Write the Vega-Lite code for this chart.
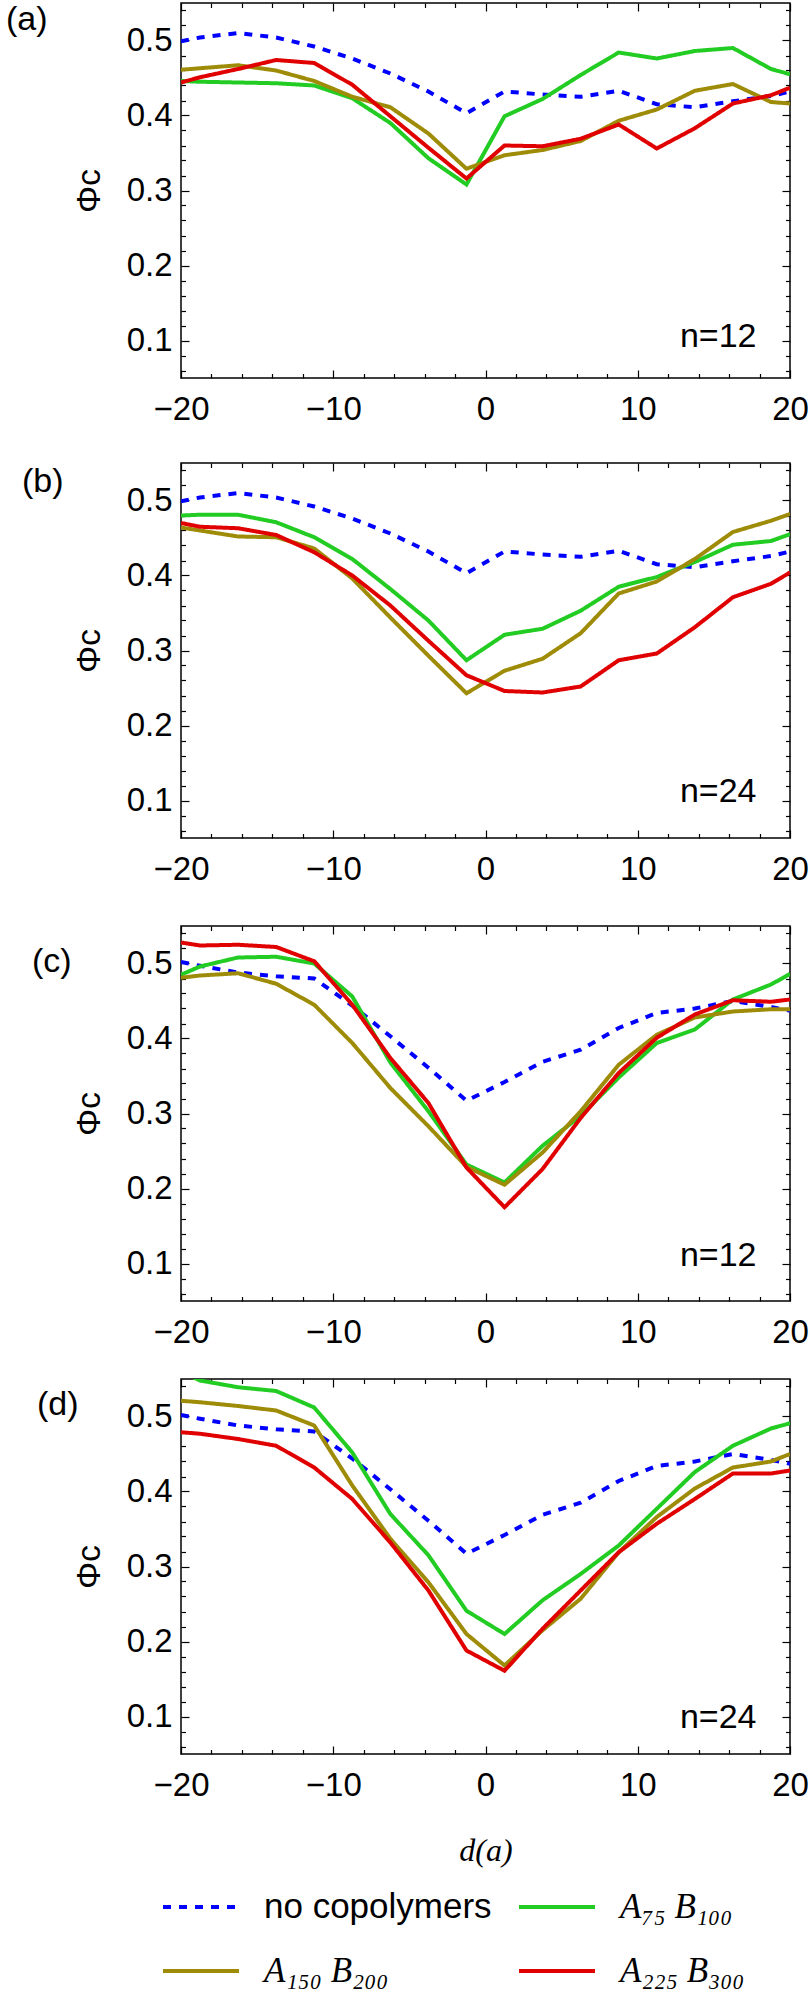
{
  "$schema": "https://vega.github.io/schema/vega-lite/v6.json",
  "background": "white",
  "padding": {"left": 5, "top": 1, "right": 0, "bottom": 5},
  "datasets": {
    "curves": [
      {"panel":"a","series":"no copolymers","d":-20,"phi":0.499},{"panel":"a","series":"no copolymers","d":-18.75,"phi":0.504},{"panel":"a","series":"no copolymers","d":-16.25,"phi":0.510},{"panel":"a","series":"no copolymers","d":-13.75,"phi":0.504},{"panel":"a","series":"no copolymers","d":-11.25,"phi":0.492},{"panel":"a","series":"no copolymers","d":-8.75,"phi":0.476},{"panel":"a","series":"no copolymers","d":-6.25,"phi":0.456},{"panel":"a","series":"no copolymers","d":-3.75,"phi":0.432},{"panel":"a","series":"no copolymers","d":-1.25,"phi":0.403},{"panel":"a","series":"no copolymers","d":1.25,"phi":0.432},{"panel":"a","series":"no copolymers","d":3.75,"phi":0.428},{"panel":"a","series":"no copolymers","d":6.25,"phi":0.425},{"panel":"a","series":"no copolymers","d":8.75,"phi":0.433},{"panel":"a","series":"no copolymers","d":11.25,"phi":0.415},{"panel":"a","series":"no copolymers","d":13.75,"phi":0.411},{"panel":"a","series":"no copolymers","d":16.25,"phi":0.419},{"panel":"a","series":"no copolymers","d":18.75,"phi":0.426},{"panel":"a","series":"no copolymers","d":20,"phi":0.432},
      {"panel":"a","series":"A₇₅ B₁₀₀","d":-20,"phi":0.446},{"panel":"a","series":"A₇₅ B₁₀₀","d":-18.75,"phi":0.445},{"panel":"a","series":"A₇₅ B₁₀₀","d":-16.25,"phi":0.444},{"panel":"a","series":"A₇₅ B₁₀₀","d":-13.75,"phi":0.443},{"panel":"a","series":"A₇₅ B₁₀₀","d":-11.25,"phi":0.440},{"panel":"a","series":"A₇₅ B₁₀₀","d":-8.75,"phi":0.423},{"panel":"a","series":"A₇₅ B₁₀₀","d":-6.25,"phi":0.390},{"panel":"a","series":"A₇₅ B₁₀₀","d":-3.75,"phi":0.343},{"panel":"a","series":"A₇₅ B₁₀₀","d":-1.25,"phi":0.308},{"panel":"a","series":"A₇₅ B₁₀₀","d":1.25,"phi":0.399},{"panel":"a","series":"A₇₅ B₁₀₀","d":3.75,"phi":0.422},{"panel":"a","series":"A₇₅ B₁₀₀","d":6.25,"phi":0.454},{"panel":"a","series":"A₇₅ B₁₀₀","d":8.75,"phi":0.484},{"panel":"a","series":"A₇₅ B₁₀₀","d":11.25,"phi":0.476},{"panel":"a","series":"A₇₅ B₁₀₀","d":13.75,"phi":0.486},{"panel":"a","series":"A₇₅ B₁₀₀","d":16.25,"phi":0.490},{"panel":"a","series":"A₇₅ B₁₀₀","d":18.75,"phi":0.462},{"panel":"a","series":"A₇₅ B₁₀₀","d":20,"phi":0.455},
      {"panel":"a","series":"A₁₅₀ B₂₀₀","d":-20,"phi":0.461},{"panel":"a","series":"A₁₅₀ B₂₀₀","d":-18.75,"phi":0.463},{"panel":"a","series":"A₁₅₀ B₂₀₀","d":-16.25,"phi":0.467},{"panel":"a","series":"A₁₅₀ B₂₀₀","d":-13.75,"phi":0.460},{"panel":"a","series":"A₁₅₀ B₂₀₀","d":-11.25,"phi":0.446},{"panel":"a","series":"A₁₅₀ B₂₀₀","d":-8.75,"phi":0.425},{"panel":"a","series":"A₁₅₀ B₂₀₀","d":-6.25,"phi":0.411},{"panel":"a","series":"A₁₅₀ B₂₀₀","d":-3.75,"phi":0.376},{"panel":"a","series":"A₁₅₀ B₂₀₀","d":-1.25,"phi":0.329},{"panel":"a","series":"A₁₅₀ B₂₀₀","d":1.25,"phi":0.347},{"panel":"a","series":"A₁₅₀ B₂₀₀","d":3.75,"phi":0.354},{"panel":"a","series":"A₁₅₀ B₂₀₀","d":6.25,"phi":0.366},{"panel":"a","series":"A₁₅₀ B₂₀₀","d":8.75,"phi":0.393},{"panel":"a","series":"A₁₅₀ B₂₀₀","d":11.25,"phi":0.408},{"panel":"a","series":"A₁₅₀ B₂₀₀","d":13.75,"phi":0.433},{"panel":"a","series":"A₁₅₀ B₂₀₀","d":16.25,"phi":0.442},{"panel":"a","series":"A₁₅₀ B₂₀₀","d":18.75,"phi":0.418},{"panel":"a","series":"A₁₅₀ B₂₀₀","d":20,"phi":0.416},
      {"panel":"a","series":"A₂₂₅ B₃₀₀","d":-20,"phi":0.444},{"panel":"a","series":"A₂₂₅ B₃₀₀","d":-18.75,"phi":0.451},{"panel":"a","series":"A₂₂₅ B₃₀₀","d":-16.25,"phi":0.462},{"panel":"a","series":"A₂₂₅ B₃₀₀","d":-13.75,"phi":0.474},{"panel":"a","series":"A₂₂₅ B₃₀₀","d":-11.25,"phi":0.470},{"panel":"a","series":"A₂₂₅ B₃₀₀","d":-8.75,"phi":0.441},{"panel":"a","series":"A₂₂₅ B₃₀₀","d":-6.25,"phi":0.399},{"panel":"a","series":"A₂₂₅ B₃₀₀","d":-3.75,"phi":0.357},{"panel":"a","series":"A₂₂₅ B₃₀₀","d":-1.25,"phi":0.316},{"panel":"a","series":"A₂₂₅ B₃₀₀","d":1.25,"phi":0.360},{"panel":"a","series":"A₂₂₅ B₃₀₀","d":3.75,"phi":0.359},{"panel":"a","series":"A₂₂₅ B₃₀₀","d":6.25,"phi":0.369},{"panel":"a","series":"A₂₂₅ B₃₀₀","d":8.75,"phi":0.388},{"panel":"a","series":"A₂₂₅ B₃₀₀","d":11.25,"phi":0.356},{"panel":"a","series":"A₂₂₅ B₃₀₀","d":13.75,"phi":0.383},{"panel":"a","series":"A₂₂₅ B₃₀₀","d":16.25,"phi":0.416},{"panel":"a","series":"A₂₂₅ B₃₀₀","d":18.75,"phi":0.427},{"panel":"a","series":"A₂₂₅ B₃₀₀","d":20,"phi":0.437},

      {"panel":"b","series":"no copolymers","d":-20,"phi":0.499},{"panel":"b","series":"no copolymers","d":-18.75,"phi":0.504},{"panel":"b","series":"no copolymers","d":-16.25,"phi":0.510},{"panel":"b","series":"no copolymers","d":-13.75,"phi":0.504},{"panel":"b","series":"no copolymers","d":-11.25,"phi":0.492},{"panel":"b","series":"no copolymers","d":-8.75,"phi":0.476},{"panel":"b","series":"no copolymers","d":-6.25,"phi":0.456},{"panel":"b","series":"no copolymers","d":-3.75,"phi":0.432},{"panel":"b","series":"no copolymers","d":-1.25,"phi":0.403},{"panel":"b","series":"no copolymers","d":1.25,"phi":0.432},{"panel":"b","series":"no copolymers","d":3.75,"phi":0.428},{"panel":"b","series":"no copolymers","d":6.25,"phi":0.425},{"panel":"b","series":"no copolymers","d":8.75,"phi":0.433},{"panel":"b","series":"no copolymers","d":11.25,"phi":0.415},{"panel":"b","series":"no copolymers","d":13.75,"phi":0.411},{"panel":"b","series":"no copolymers","d":16.25,"phi":0.419},{"panel":"b","series":"no copolymers","d":18.75,"phi":0.426},{"panel":"b","series":"no copolymers","d":20,"phi":0.432},
      {"panel":"b","series":"A₇₅ B₁₀₀","d":-20,"phi":0.480},{"panel":"b","series":"A₇₅ B₁₀₀","d":-18.75,"phi":0.481},{"panel":"b","series":"A₇₅ B₁₀₀","d":-16.25,"phi":0.481},{"panel":"b","series":"A₇₅ B₁₀₀","d":-13.75,"phi":0.471},{"panel":"b","series":"A₇₅ B₁₀₀","d":-11.25,"phi":0.451},{"panel":"b","series":"A₇₅ B₁₀₀","d":-8.75,"phi":0.422},{"panel":"b","series":"A₇₅ B₁₀₀","d":-6.25,"phi":0.382},{"panel":"b","series":"A₇₅ B₁₀₀","d":-3.75,"phi":0.340},{"panel":"b","series":"A₇₅ B₁₀₀","d":-1.25,"phi":0.287},{"panel":"b","series":"A₇₅ B₁₀₀","d":1.25,"phi":0.321},{"panel":"b","series":"A₇₅ B₁₀₀","d":3.75,"phi":0.329},{"panel":"b","series":"A₇₅ B₁₀₀","d":6.25,"phi":0.353},{"panel":"b","series":"A₇₅ B₁₀₀","d":8.75,"phi":0.385},{"panel":"b","series":"A₇₅ B₁₀₀","d":11.25,"phi":0.398},{"panel":"b","series":"A₇₅ B₁₀₀","d":13.75,"phi":0.418},{"panel":"b","series":"A₇₅ B₁₀₀","d":16.25,"phi":0.441},{"panel":"b","series":"A₇₅ B₁₀₀","d":18.75,"phi":0.446},{"panel":"b","series":"A₇₅ B₁₀₀","d":20,"phi":0.455},
      {"panel":"b","series":"A₁₅₀ B₂₀₀","d":-20,"phi":0.464},{"panel":"b","series":"A₁₅₀ B₂₀₀","d":-18.75,"phi":0.460},{"panel":"b","series":"A₁₅₀ B₂₀₀","d":-16.25,"phi":0.452},{"panel":"b","series":"A₁₅₀ B₂₀₀","d":-13.75,"phi":0.451},{"panel":"b","series":"A₁₅₀ B₂₀₀","d":-11.25,"phi":0.436},{"panel":"b","series":"A₁₅₀ B₂₀₀","d":-8.75,"phi":0.396},{"panel":"b","series":"A₁₅₀ B₂₀₀","d":-6.25,"phi":0.344},{"panel":"b","series":"A₁₅₀ B₂₀₀","d":-3.75,"phi":0.293},{"panel":"b","series":"A₁₅₀ B₂₀₀","d":-1.25,"phi":0.243},{"panel":"b","series":"A₁₅₀ B₂₀₀","d":1.25,"phi":0.273},{"panel":"b","series":"A₁₅₀ B₂₀₀","d":3.75,"phi":0.289},{"panel":"b","series":"A₁₅₀ B₂₀₀","d":6.25,"phi":0.323},{"panel":"b","series":"A₁₅₀ B₂₀₀","d":8.75,"phi":0.376},{"panel":"b","series":"A₁₅₀ B₂₀₀","d":11.25,"phi":0.392},{"panel":"b","series":"A₁₅₀ B₂₀₀","d":13.75,"phi":0.422},{"panel":"b","series":"A₁₅₀ B₂₀₀","d":16.25,"phi":0.458},{"panel":"b","series":"A₁₅₀ B₂₀₀","d":18.75,"phi":0.473},{"panel":"b","series":"A₁₅₀ B₂₀₀","d":20,"phi":0.482},
      {"panel":"b","series":"A₂₂₅ B₃₀₀","d":-20,"phi":0.470},{"panel":"b","series":"A₂₂₅ B₃₀₀","d":-18.75,"phi":0.465},{"panel":"b","series":"A₂₂₅ B₃₀₀","d":-16.25,"phi":0.463},{"panel":"b","series":"A₂₂₅ B₃₀₀","d":-13.75,"phi":0.454},{"panel":"b","series":"A₂₂₅ B₃₀₀","d":-11.25,"phi":0.431},{"panel":"b","series":"A₂₂₅ B₃₀₀","d":-8.75,"phi":0.400},{"panel":"b","series":"A₂₂₅ B₃₀₀","d":-6.25,"phi":0.360},{"panel":"b","series":"A₂₂₅ B₃₀₀","d":-3.75,"phi":0.313},{"panel":"b","series":"A₂₂₅ B₃₀₀","d":-1.25,"phi":0.267},{"panel":"b","series":"A₂₂₅ B₃₀₀","d":1.25,"phi":0.246},{"panel":"b","series":"A₂₂₅ B₃₀₀","d":3.75,"phi":0.244},{"panel":"b","series":"A₂₂₅ B₃₀₀","d":6.25,"phi":0.252},{"panel":"b","series":"A₂₂₅ B₃₀₀","d":8.75,"phi":0.287},{"panel":"b","series":"A₂₂₅ B₃₀₀","d":11.25,"phi":0.296},{"panel":"b","series":"A₂₂₅ B₃₀₀","d":13.75,"phi":0.331},{"panel":"b","series":"A₂₂₅ B₃₀₀","d":16.25,"phi":0.371},{"panel":"b","series":"A₂₂₅ B₃₀₀","d":18.75,"phi":0.389},{"panel":"b","series":"A₂₂₅ B₃₀₀","d":20,"phi":0.404},

      {"panel":"c","series":"no copolymers","d":-20,"phi":0.502},{"panel":"c","series":"no copolymers","d":-18.75,"phi":0.497},{"panel":"c","series":"no copolymers","d":-16.25,"phi":0.488},{"panel":"c","series":"no copolymers","d":-13.75,"phi":0.483},{"panel":"c","series":"no copolymers","d":-11.25,"phi":0.480},{"panel":"c","series":"no copolymers","d":-8.75,"phi":0.444},{"panel":"c","series":"no copolymers","d":-6.25,"phi":0.403},{"panel":"c","series":"no copolymers","d":-3.75,"phi":0.361},{"panel":"c","series":"no copolymers","d":-1.25,"phi":0.317},{"panel":"c","series":"no copolymers","d":1.25,"phi":0.342},{"panel":"c","series":"no copolymers","d":3.75,"phi":0.369},{"panel":"c","series":"no copolymers","d":6.25,"phi":0.385},{"panel":"c","series":"no copolymers","d":8.75,"phi":0.414},{"panel":"c","series":"no copolymers","d":11.25,"phi":0.434},{"panel":"c","series":"no copolymers","d":13.75,"phi":0.440},{"panel":"c","series":"no copolymers","d":16.25,"phi":0.450},{"panel":"c","series":"no copolymers","d":18.75,"phi":0.442},{"panel":"c","series":"no copolymers","d":20,"phi":0.437},
      {"panel":"c","series":"A₇₅ B₁₀₀","d":-20,"phi":0.485},{"panel":"c","series":"A₇₅ B₁₀₀","d":-18.75,"phi":0.496},{"panel":"c","series":"A₇₅ B₁₀₀","d":-16.25,"phi":0.508},{"panel":"c","series":"A₇₅ B₁₀₀","d":-13.75,"phi":0.509},{"panel":"c","series":"A₇₅ B₁₀₀","d":-11.25,"phi":0.500},{"panel":"c","series":"A₇₅ B₁₀₀","d":-8.75,"phi":0.456},{"panel":"c","series":"A₇₅ B₁₀₀","d":-6.25,"phi":0.368},{"panel":"c","series":"A₇₅ B₁₀₀","d":-3.75,"phi":0.303},{"panel":"c","series":"A₇₅ B₁₀₀","d":-1.25,"phi":0.232},{"panel":"c","series":"A₇₅ B₁₀₀","d":1.25,"phi":0.208},{"panel":"c","series":"A₇₅ B₁₀₀","d":3.75,"phi":0.257},{"panel":"c","series":"A₇₅ B₁₀₀","d":6.25,"phi":0.297},{"panel":"c","series":"A₇₅ B₁₀₀","d":8.75,"phi":0.348},{"panel":"c","series":"A₇₅ B₁₀₀","d":11.25,"phi":0.394},{"panel":"c","series":"A₇₅ B₁₀₀","d":13.75,"phi":0.412},{"panel":"c","series":"A₇₅ B₁₀₀","d":16.25,"phi":0.452},{"panel":"c","series":"A₇₅ B₁₀₀","d":18.75,"phi":0.472},{"panel":"c","series":"A₇₅ B₁₀₀","d":20,"phi":0.486},
      {"panel":"c","series":"A₁₅₀ B₂₀₀","d":-20,"phi":0.481},{"panel":"c","series":"A₁₅₀ B₂₀₀","d":-18.75,"phi":0.484},{"panel":"c","series":"A₁₅₀ B₂₀₀","d":-16.25,"phi":0.487},{"panel":"c","series":"A₁₅₀ B₂₀₀","d":-13.75,"phi":0.473},{"panel":"c","series":"A₁₅₀ B₂₀₀","d":-11.25,"phi":0.445},{"panel":"c","series":"A₁₅₀ B₂₀₀","d":-8.75,"phi":0.394},{"panel":"c","series":"A₁₅₀ B₂₀₀","d":-6.25,"phi":0.334},{"panel":"c","series":"A₁₅₀ B₂₀₀","d":-3.75,"phi":0.283},{"panel":"c","series":"A₁₅₀ B₂₀₀","d":-1.25,"phi":0.229},{"panel":"c","series":"A₁₅₀ B₂₀₀","d":1.25,"phi":0.205},{"panel":"c","series":"A₁₅₀ B₂₀₀","d":3.75,"phi":0.248},{"panel":"c","series":"A₁₅₀ B₂₀₀","d":6.25,"phi":0.303},{"panel":"c","series":"A₁₅₀ B₂₀₀","d":8.75,"phi":0.365},{"panel":"c","series":"A₁₅₀ B₂₀₀","d":11.25,"phi":0.405},{"panel":"c","series":"A₁₅₀ B₂₀₀","d":13.75,"phi":0.428},{"panel":"c","series":"A₁₅₀ B₂₀₀","d":16.25,"phi":0.436},{"panel":"c","series":"A₁₅₀ B₂₀₀","d":18.75,"phi":0.439},{"panel":"c","series":"A₁₅₀ B₂₀₀","d":20,"phi":0.439},
      {"panel":"c","series":"A₂₂₅ B₃₀₀","d":-20,"phi":0.528},{"panel":"c","series":"A₂₂₅ B₃₀₀","d":-18.75,"phi":0.524},{"panel":"c","series":"A₂₂₅ B₃₀₀","d":-16.25,"phi":0.525},{"panel":"c","series":"A₂₂₅ B₃₀₀","d":-13.75,"phi":0.522},{"panel":"c","series":"A₂₂₅ B₃₀₀","d":-11.25,"phi":0.503},{"panel":"c","series":"A₂₂₅ B₃₀₀","d":-8.75,"phi":0.445},{"panel":"c","series":"A₂₂₅ B₃₀₀","d":-6.25,"phi":0.374},{"panel":"c","series":"A₂₂₅ B₃₀₀","d":-3.75,"phi":0.314},{"panel":"c","series":"A₂₂₅ B₃₀₀","d":-1.25,"phi":0.228},{"panel":"c","series":"A₂₂₅ B₃₀₀","d":1.25,"phi":0.175},{"panel":"c","series":"A₂₂₅ B₃₀₀","d":3.75,"phi":0.226},{"panel":"c","series":"A₂₂₅ B₃₀₀","d":6.25,"phi":0.294},{"panel":"c","series":"A₂₂₅ B₃₀₀","d":8.75,"phi":0.354},{"panel":"c","series":"A₂₂₅ B₃₀₀","d":11.25,"phi":0.401},{"panel":"c","series":"A₂₂₅ B₃₀₀","d":13.75,"phi":0.432},{"panel":"c","series":"A₂₂₅ B₃₀₀","d":16.25,"phi":0.451},{"panel":"c","series":"A₂₂₅ B₃₀₀","d":18.75,"phi":0.449},{"panel":"c","series":"A₂₂₅ B₃₀₀","d":20,"phi":0.452},

      {"panel":"d","series":"no copolymers","d":-20,"phi":0.502},{"panel":"d","series":"no copolymers","d":-18.75,"phi":0.497},{"panel":"d","series":"no copolymers","d":-16.25,"phi":0.488},{"panel":"d","series":"no copolymers","d":-13.75,"phi":0.483},{"panel":"d","series":"no copolymers","d":-11.25,"phi":0.480},{"panel":"d","series":"no copolymers","d":-8.75,"phi":0.444},{"panel":"d","series":"no copolymers","d":-6.25,"phi":0.403},{"panel":"d","series":"no copolymers","d":-3.75,"phi":0.361},{"panel":"d","series":"no copolymers","d":-1.25,"phi":0.317},{"panel":"d","series":"no copolymers","d":1.25,"phi":0.342},{"panel":"d","series":"no copolymers","d":3.75,"phi":0.369},{"panel":"d","series":"no copolymers","d":6.25,"phi":0.385},{"panel":"d","series":"no copolymers","d":8.75,"phi":0.414},{"panel":"d","series":"no copolymers","d":11.25,"phi":0.434},{"panel":"d","series":"no copolymers","d":13.75,"phi":0.440},{"panel":"d","series":"no copolymers","d":16.25,"phi":0.450},{"panel":"d","series":"no copolymers","d":18.75,"phi":0.442},{"panel":"d","series":"no copolymers","d":20,"phi":0.437},
      {"panel":"d","series":"A₇₅ B₁₀₀","d":-20,"phi":0.560},{"panel":"d","series":"A₇₅ B₁₀₀","d":-18.75,"phi":0.548},{"panel":"d","series":"A₇₅ B₁₀₀","d":-16.25,"phi":0.539},{"panel":"d","series":"A₇₅ B₁₀₀","d":-13.75,"phi":0.534},{"panel":"d","series":"A₇₅ B₁₀₀","d":-11.25,"phi":0.512},{"panel":"d","series":"A₇₅ B₁₀₀","d":-8.75,"phi":0.452},{"panel":"d","series":"A₇₅ B₁₀₀","d":-6.25,"phi":0.370},{"panel":"d","series":"A₇₅ B₁₀₀","d":-3.75,"phi":0.315},{"panel":"d","series":"A₇₅ B₁₀₀","d":-1.25,"phi":0.241},{"panel":"d","series":"A₇₅ B₁₀₀","d":1.25,"phi":0.210},{"panel":"d","series":"A₇₅ B₁₀₀","d":3.75,"phi":0.255},{"panel":"d","series":"A₇₅ B₁₀₀","d":6.25,"phi":0.290},{"panel":"d","series":"A₇₅ B₁₀₀","d":8.75,"phi":0.328},{"panel":"d","series":"A₇₅ B₁₀₀","d":11.25,"phi":0.377},{"panel":"d","series":"A₇₅ B₁₀₀","d":13.75,"phi":0.426},{"panel":"d","series":"A₇₅ B₁₀₀","d":16.25,"phi":0.461},{"panel":"d","series":"A₇₅ B₁₀₀","d":18.75,"phi":0.484},{"panel":"d","series":"A₇₅ B₁₀₀","d":20,"phi":0.491},
      {"panel":"d","series":"A₁₅₀ B₂₀₀","d":-20,"phi":0.521},{"panel":"d","series":"A₁₅₀ B₂₀₀","d":-18.75,"phi":0.519},{"panel":"d","series":"A₁₅₀ B₂₀₀","d":-16.25,"phi":0.514},{"panel":"d","series":"A₁₅₀ B₂₀₀","d":-13.75,"phi":0.508},{"panel":"d","series":"A₁₅₀ B₂₀₀","d":-11.25,"phi":0.488},{"panel":"d","series":"A₁₅₀ B₂₀₀","d":-8.75,"phi":0.408},{"panel":"d","series":"A₁₅₀ B₂₀₀","d":-6.25,"phi":0.337},{"panel":"d","series":"A₁₅₀ B₂₀₀","d":-3.75,"phi":0.279},{"panel":"d","series":"A₁₅₀ B₂₀₀","d":-1.25,"phi":0.210},{"panel":"d","series":"A₁₅₀ B₂₀₀","d":1.25,"phi":0.168},{"panel":"d","series":"A₁₅₀ B₂₀₀","d":3.75,"phi":0.215},{"panel":"d","series":"A₁₅₀ B₂₀₀","d":6.25,"phi":0.257},{"panel":"d","series":"A₁₅₀ B₂₀₀","d":8.75,"phi":0.319},{"panel":"d","series":"A₁₅₀ B₂₀₀","d":11.25,"phi":0.366},{"panel":"d","series":"A₁₅₀ B₂₀₀","d":13.75,"phi":0.404},{"panel":"d","series":"A₁₅₀ B₂₀₀","d":16.25,"phi":0.432},{"panel":"d","series":"A₁₅₀ B₂₀₀","d":18.75,"phi":0.440},{"panel":"d","series":"A₁₅₀ B₂₀₀","d":20,"phi":0.450},
      {"panel":"d","series":"A₂₂₅ B₃₀₀","d":-20,"phi":0.479},{"panel":"d","series":"A₂₂₅ B₃₀₀","d":-18.75,"phi":0.477},{"panel":"d","series":"A₂₂₅ B₃₀₀","d":-16.25,"phi":0.470},{"panel":"d","series":"A₂₂₅ B₃₀₀","d":-13.75,"phi":0.461},{"panel":"d","series":"A₂₂₅ B₃₀₀","d":-11.25,"phi":0.432},{"panel":"d","series":"A₂₂₅ B₃₀₀","d":-8.75,"phi":0.390},{"panel":"d","series":"A₂₂₅ B₃₀₀","d":-6.25,"phi":0.332},{"panel":"d","series":"A₂₂₅ B₃₀₀","d":-3.75,"phi":0.268},{"panel":"d","series":"A₂₂₅ B₃₀₀","d":-1.25,"phi":0.188},{"panel":"d","series":"A₂₂₅ B₃₀₀","d":1.25,"phi":0.161},{"panel":"d","series":"A₂₂₅ B₃₀₀","d":3.75,"phi":0.217},{"panel":"d","series":"A₂₂₅ B₃₀₀","d":6.25,"phi":0.268},{"panel":"d","series":"A₂₂₅ B₃₀₀","d":8.75,"phi":0.319},{"panel":"d","series":"A₂₂₅ B₃₀₀","d":11.25,"phi":0.357},{"panel":"d","series":"A₂₂₅ B₃₀₀","d":13.75,"phi":0.390},{"panel":"d","series":"A₂₂₅ B₃₀₀","d":16.25,"phi":0.424},{"panel":"d","series":"A₂₂₅ B₃₀₀","d":18.75,"phi":0.424},{"panel":"d","series":"A₂₂₅ B₃₀₀","d":20,"phi":0.428}
    ]
  },
  "config": {
    "view": {"stroke": "black", "strokeWidth": 1.5},
    "axis": {"domain": false, "grid": false, "tickColor": "black", "tickWidth": 1.2, "labelFont": "Liberation Sans", "labelFontSize": 33, "labelColor": "black", "labelFlush": false, "labelOverlap": false, "titleFont": "Liberation Sans", "titleFontWeight": "normal", "titleColor": "black"},
    "title": {"font": "Liberation Sans", "fontSize": 34, "fontWeight": "normal", "color": "black", "anchor": "start", "frame": "group", "baseline": "top", "offset": -38},
    "legend": {"orient": "none", "direction": "horizontal", "legendX": -20, "legendY": 1864, "columns": 2, "symbolType": "stroke", "symbolSize": 5776, "symbolStrokeWidth": 4, "labelFont": "Liberation Serif", "labelFontStyle": "italic", "labelFontSize": 35, "labelColor": "black", "labelOffset": 23, "labelLimit": 0, "columnPadding": 19, "rowPadding": 6, "padding": 0}
  },
  "spacing": 37,
  "vconcat": [
    {
      "spacing": 34,
      "vconcat": [
        {
          "width": 609, "height": 375,
          "title": {"text": "(a)", "dx": -175, "dy": -3},
          "data": {"name": "curves"},
          "transform": [{"filter": "datum.panel === 'a'"}],
          "layer": [
            {"mark": {"type": "line", "clip": true, "strokeWidth": 4},
             "encoding": {
               "x": {"field": "d", "type": "quantitative", "scale": {"domain": [-20, 20], "nice": false, "zero": false}, "axis": {"orient": "bottom", "values": [-20, -10, 0, 10, 20], "tickSize": -8, "labelPadding": 23, "title": null}},
               "y": {"field": "phi", "type": "quantitative", "scale": {"domain": [0.05, 0.55], "nice": false, "zero": false}, "axis": {"orient": "left", "values": [0.1, 0.2, 0.3, 0.4, 0.5], "format": ".1f", "tickSize": -8, "labelPadding": 17, "title": "Φc", "titleFontSize": 34, "titlePadding": 20}},
               "color": {"field": "series", "type": "nominal", "scale": {"domain": ["no copolymers", "A₇₅ B₁₀₀", "A₁₅₀ B₂₀₀", "A₂₂₅ B₃₀₀"], "range": ["#0000ff", "#22cc22", "#9e8c08", "#e00000"]}, "legend": {"title": null, "encode": {"labels": {"update": {"font": {"signal": "datum.value === 'no copolymers' ? 'Liberation Sans' : 'Liberation Serif'"}, "fontStyle": {"signal": "datum.value === 'no copolymers' ? 'normal' : 'italic'"}}}}}},
               "strokeDash": {"field": "series", "type": "nominal", "scale": {"domain": ["no copolymers", "A₇₅ B₁₀₀", "A₁₅₀ B₂₀₀", "A₂₂₅ B₃₀₀"], "range": [[8, 8], [1, 0], [1, 0], [1, 0]]}, "legend": {"title": null}}
             }},
            {"mark": {"type": "point", "opacity": 0},
             "encoding": {
               "x": {"field": "d", "type": "quantitative", "axis": {"orient": "top", "values": [-20, -10, 0, 10, 20], "tickSize": -8, "labels": false, "title": null}},
               "y": {"field": "phi", "type": "quantitative", "axis": {"orient": "right", "values": [0.1, 0.2, 0.3, 0.4, 0.5], "tickSize": -8, "labels": false, "title": null}}
             }},
            {"mark": {"type": "point", "opacity": 0},
             "encoding": {
               "x": {"field": "d", "type": "quantitative", "axis": {"orient": "bottom", "values": [-18, -16, -14, -12, -8, -6, -4, -2, 2, 4, 6, 8, 12, 14, 16, 18], "tickSize": -4.5, "labels": false, "title": null}},
               "y": {"field": "phi", "type": "quantitative", "axis": {"orient": "left", "values": [0.06, 0.08, 0.12, 0.14, 0.16, 0.18, 0.22, 0.24, 0.26, 0.28, 0.32, 0.34, 0.36, 0.38, 0.42, 0.44, 0.46, 0.48, 0.52, 0.54], "tickSize": -4.5, "labels": false, "title": null}}
             }},
            {"mark": {"type": "point", "opacity": 0},
             "encoding": {
               "x": {"field": "d", "type": "quantitative", "axis": {"orient": "top", "values": [-18, -16, -14, -12, -8, -6, -4, -2, 2, 4, 6, 8, 12, 14, 16, 18], "tickSize": -4.5, "labels": false, "title": null}},
               "y": {"field": "phi", "type": "quantitative", "axis": {"orient": "right", "values": [0.06, 0.08, 0.12, 0.14, 0.16, 0.18, 0.22, 0.24, 0.26, 0.28, 0.32, 0.34, 0.36, 0.38, 0.42, 0.44, 0.46, 0.48, 0.52, 0.54], "tickSize": -4.5, "labels": false, "title": null}}
             }},
            {"data": {"values": [{"label": "n=12"}]},
             "mark": {"type": "text", "font": "Liberation Sans", "fontSize": 34, "align": "right", "baseline": "alphabetic", "color": "black"},
             "encoding": {
               "text": {"field": "label"},
               "x": {"datum": 17.8, "type": "quantitative", "axis": null},
               "y": {"datum": 0.091, "type": "quantitative", "axis": null}
             }}
          ],
          "resolve": {"axis": {"x": "independent", "y": "independent"}}
        },
        {
          "width": 609, "height": 375,
          "title": {"text": "(b)", "dx": -159, "dy": -1},
          "data": {"name": "curves"},
          "transform": [{"filter": "datum.panel === 'b'"}],
          "layer": [
            {"mark": {"type": "line", "clip": true, "strokeWidth": 4},
             "encoding": {
               "x": {"field": "d", "type": "quantitative", "scale": {"domain": [-20, 20], "nice": false, "zero": false}, "axis": {"orient": "bottom", "values": [-20, -10, 0, 10, 20], "tickSize": -8, "labelPadding": 23, "title": null}},
               "y": {"field": "phi", "type": "quantitative", "scale": {"domain": [0.05, 0.55], "nice": false, "zero": false}, "axis": {"orient": "left", "values": [0.1, 0.2, 0.3, 0.4, 0.5], "format": ".1f", "tickSize": -8, "labelPadding": 17, "title": "Φc", "titleFontSize": 34, "titlePadding": 20}},
               "color": {"field": "series", "type": "nominal", "scale": {"domain": ["no copolymers", "A₇₅ B₁₀₀", "A₁₅₀ B₂₀₀", "A₂₂₅ B₃₀₀"], "range": ["#0000ff", "#22cc22", "#9e8c08", "#e00000"]}, "legend": {"title": null}},
               "strokeDash": {"field": "series", "type": "nominal", "scale": {"domain": ["no copolymers", "A₇₅ B₁₀₀", "A₁₅₀ B₂₀₀", "A₂₂₅ B₃₀₀"], "range": [[8, 8], [1, 0], [1, 0], [1, 0]]}, "legend": {"title": null}}
             }},
            {"mark": {"type": "point", "opacity": 0},
             "encoding": {
               "x": {"field": "d", "type": "quantitative", "axis": {"orient": "top", "values": [-20, -10, 0, 10, 20], "tickSize": -8, "labels": false, "title": null}},
               "y": {"field": "phi", "type": "quantitative", "axis": {"orient": "right", "values": [0.1, 0.2, 0.3, 0.4, 0.5], "tickSize": -8, "labels": false, "title": null}}
             }},
            {"mark": {"type": "point", "opacity": 0},
             "encoding": {
               "x": {"field": "d", "type": "quantitative", "axis": {"orient": "bottom", "values": [-18, -16, -14, -12, -8, -6, -4, -2, 2, 4, 6, 8, 12, 14, 16, 18], "tickSize": -4.5, "labels": false, "title": null}},
               "y": {"field": "phi", "type": "quantitative", "axis": {"orient": "left", "values": [0.06, 0.08, 0.12, 0.14, 0.16, 0.18, 0.22, 0.24, 0.26, 0.28, 0.32, 0.34, 0.36, 0.38, 0.42, 0.44, 0.46, 0.48, 0.52, 0.54], "tickSize": -4.5, "labels": false, "title": null}}
             }},
            {"mark": {"type": "point", "opacity": 0},
             "encoding": {
               "x": {"field": "d", "type": "quantitative", "axis": {"orient": "top", "values": [-18, -16, -14, -12, -8, -6, -4, -2, 2, 4, 6, 8, 12, 14, 16, 18], "tickSize": -4.5, "labels": false, "title": null}},
               "y": {"field": "phi", "type": "quantitative", "axis": {"orient": "right", "values": [0.06, 0.08, 0.12, 0.14, 0.16, 0.18, 0.22, 0.24, 0.26, 0.28, 0.32, 0.34, 0.36, 0.38, 0.42, 0.44, 0.46, 0.48, 0.52, 0.54], "tickSize": -4.5, "labels": false, "title": null}}
             }},
            {"data": {"values": [{"label": "n=24"}]},
             "mark": {"type": "text", "font": "Liberation Sans", "fontSize": 34, "align": "right", "baseline": "alphabetic", "color": "black"},
             "encoding": {
               "text": {"field": "label"},
               "x": {"datum": 17.8, "type": "quantitative", "axis": null},
               "y": {"datum": 0.098, "type": "quantitative", "axis": null}
             }}
          ],
          "resolve": {"axis": {"x": "independent", "y": "independent"}}
        }
      ]
    },
    {
      "spacing": 18,
      "vconcat": [
        {
          "width": 609, "height": 375,
          "title": {"text": "(c)", "dx": -149, "dy": 16},
          "data": {"name": "curves"},
          "transform": [{"filter": "datum.panel === 'c'"}],
          "layer": [
            {"mark": {"type": "line", "clip": true, "strokeWidth": 4},
             "encoding": {
               "x": {"field": "d", "type": "quantitative", "scale": {"domain": [-20, 20], "nice": false, "zero": false}, "axis": {"orient": "bottom", "values": [-20, -10, 0, 10, 20], "tickSize": -8, "labelPadding": 23, "title": null}},
               "y": {"field": "phi", "type": "quantitative", "scale": {"domain": [0.05, 0.55], "nice": false, "zero": false}, "axis": {"orient": "left", "values": [0.1, 0.2, 0.3, 0.4, 0.5], "format": ".1f", "tickSize": -8, "labelPadding": 17, "title": "Φc", "titleFontSize": 34, "titlePadding": 20}},
               "color": {"field": "series", "type": "nominal", "scale": {"domain": ["no copolymers", "A₇₅ B₁₀₀", "A₁₅₀ B₂₀₀", "A₂₂₅ B₃₀₀"], "range": ["#0000ff", "#22cc22", "#9e8c08", "#e00000"]}, "legend": {"title": null}},
               "strokeDash": {"field": "series", "type": "nominal", "scale": {"domain": ["no copolymers", "A₇₅ B₁₀₀", "A₁₅₀ B₂₀₀", "A₂₂₅ B₃₀₀"], "range": [[8, 8], [1, 0], [1, 0], [1, 0]]}, "legend": {"title": null}}
             }},
            {"mark": {"type": "point", "opacity": 0},
             "encoding": {
               "x": {"field": "d", "type": "quantitative", "axis": {"orient": "top", "values": [-20, -10, 0, 10, 20], "tickSize": -8, "labels": false, "title": null}},
               "y": {"field": "phi", "type": "quantitative", "axis": {"orient": "right", "values": [0.1, 0.2, 0.3, 0.4, 0.5], "tickSize": -8, "labels": false, "title": null}}
             }},
            {"mark": {"type": "point", "opacity": 0},
             "encoding": {
               "x": {"field": "d", "type": "quantitative", "axis": {"orient": "bottom", "values": [-18, -16, -14, -12, -8, -6, -4, -2, 2, 4, 6, 8, 12, 14, 16, 18], "tickSize": -4.5, "labels": false, "title": null}},
               "y": {"field": "phi", "type": "quantitative", "axis": {"orient": "left", "values": [0.06, 0.08, 0.12, 0.14, 0.16, 0.18, 0.22, 0.24, 0.26, 0.28, 0.32, 0.34, 0.36, 0.38, 0.42, 0.44, 0.46, 0.48, 0.52, 0.54], "tickSize": -4.5, "labels": false, "title": null}}
             }},
            {"mark": {"type": "point", "opacity": 0},
             "encoding": {
               "x": {"field": "d", "type": "quantitative", "axis": {"orient": "top", "values": [-18, -16, -14, -12, -8, -6, -4, -2, 2, 4, 6, 8, 12, 14, 16, 18], "tickSize": -4.5, "labels": false, "title": null}},
               "y": {"field": "phi", "type": "quantitative", "axis": {"orient": "right", "values": [0.06, 0.08, 0.12, 0.14, 0.16, 0.18, 0.22, 0.24, 0.26, 0.28, 0.32, 0.34, 0.36, 0.38, 0.42, 0.44, 0.46, 0.48, 0.52, 0.54], "tickSize": -4.5, "labels": false, "title": null}}
             }},
            {"data": {"values": [{"label": "n=12"}]},
             "mark": {"type": "text", "font": "Liberation Sans", "fontSize": 34, "align": "right", "baseline": "alphabetic", "color": "black"},
             "encoding": {
               "text": {"field": "label"},
               "x": {"datum": 17.8, "type": "quantitative", "axis": null},
               "y": {"datum": 0.097, "type": "quantitative", "axis": null}
             }}
          ],
          "resolve": {"axis": {"x": "independent", "y": "independent"}}
        },
        {
          "width": 609, "height": 375,
          "title": {"text": "(d)", "dx": -144, "dy": 15},
          "data": {"name": "curves"},
          "transform": [{"filter": "datum.panel === 'd'"}],
          "layer": [
            {"mark": {"type": "line", "clip": true, "strokeWidth": 4},
             "encoding": {
               "x": {"field": "d", "type": "quantitative", "scale": {"domain": [-20, 20], "nice": false, "zero": false}, "axis": {"orient": "bottom", "values": [-20, -10, 0, 10, 20], "tickSize": -8, "labelPadding": 23, "title": "d(a)", "titleFont": "Liberation Serif", "titleFontStyle": "italic", "titleFontSize": 32, "titlePadding": 33}},
               "y": {"field": "phi", "type": "quantitative", "scale": {"domain": [0.05, 0.55], "nice": false, "zero": false}, "axis": {"orient": "left", "values": [0.1, 0.2, 0.3, 0.4, 0.5], "format": ".1f", "tickSize": -8, "labelPadding": 17, "title": "Φc", "titleFontSize": 34, "titlePadding": 20}},
               "color": {"field": "series", "type": "nominal", "scale": {"domain": ["no copolymers", "A₇₅ B₁₀₀", "A₁₅₀ B₂₀₀", "A₂₂₅ B₃₀₀"], "range": ["#0000ff", "#22cc22", "#9e8c08", "#e00000"]}, "legend": {"title": null}},
               "strokeDash": {"field": "series", "type": "nominal", "scale": {"domain": ["no copolymers", "A₇₅ B₁₀₀", "A₁₅₀ B₂₀₀", "A₂₂₅ B₃₀₀"], "range": [[8, 8], [1, 0], [1, 0], [1, 0]]}, "legend": {"title": null}}
             }},
            {"mark": {"type": "point", "opacity": 0},
             "encoding": {
               "x": {"field": "d", "type": "quantitative", "axis": {"orient": "top", "values": [-20, -10, 0, 10, 20], "tickSize": -8, "labels": false, "title": null}},
               "y": {"field": "phi", "type": "quantitative", "axis": {"orient": "right", "values": [0.1, 0.2, 0.3, 0.4, 0.5], "tickSize": -8, "labels": false, "title": null}}
             }},
            {"mark": {"type": "point", "opacity": 0},
             "encoding": {
               "x": {"field": "d", "type": "quantitative", "axis": {"orient": "bottom", "values": [-18, -16, -14, -12, -8, -6, -4, -2, 2, 4, 6, 8, 12, 14, 16, 18], "tickSize": -4.5, "labels": false, "title": null}},
               "y": {"field": "phi", "type": "quantitative", "axis": {"orient": "left", "values": [0.06, 0.08, 0.12, 0.14, 0.16, 0.18, 0.22, 0.24, 0.26, 0.28, 0.32, 0.34, 0.36, 0.38, 0.42, 0.44, 0.46, 0.48, 0.52, 0.54], "tickSize": -4.5, "labels": false, "title": null}}
             }},
            {"mark": {"type": "point", "opacity": 0},
             "encoding": {
               "x": {"field": "d", "type": "quantitative", "axis": {"orient": "top", "values": [-18, -16, -14, -12, -8, -6, -4, -2, 2, 4, 6, 8, 12, 14, 16, 18], "tickSize": -4.5, "labels": false, "title": null}},
               "y": {"field": "phi", "type": "quantitative", "axis": {"orient": "right", "values": [0.06, 0.08, 0.12, 0.14, 0.16, 0.18, 0.22, 0.24, 0.26, 0.28, 0.32, 0.34, 0.36, 0.38, 0.42, 0.44, 0.46, 0.48, 0.52, 0.54], "tickSize": -4.5, "labels": false, "title": null}}
             }},
            {"data": {"values": [{"label": "n=24"}]},
             "mark": {"type": "text", "font": "Liberation Sans", "fontSize": 34, "align": "right", "baseline": "alphabetic", "color": "black"},
             "encoding": {
               "text": {"field": "label"},
               "x": {"datum": 17.8, "type": "quantitative", "axis": null},
               "y": {"datum": 0.085, "type": "quantitative", "axis": null}
             }}
          ],
          "resolve": {"axis": {"x": "independent", "y": "independent"}}
        }
      ]
    }
  ]
}
